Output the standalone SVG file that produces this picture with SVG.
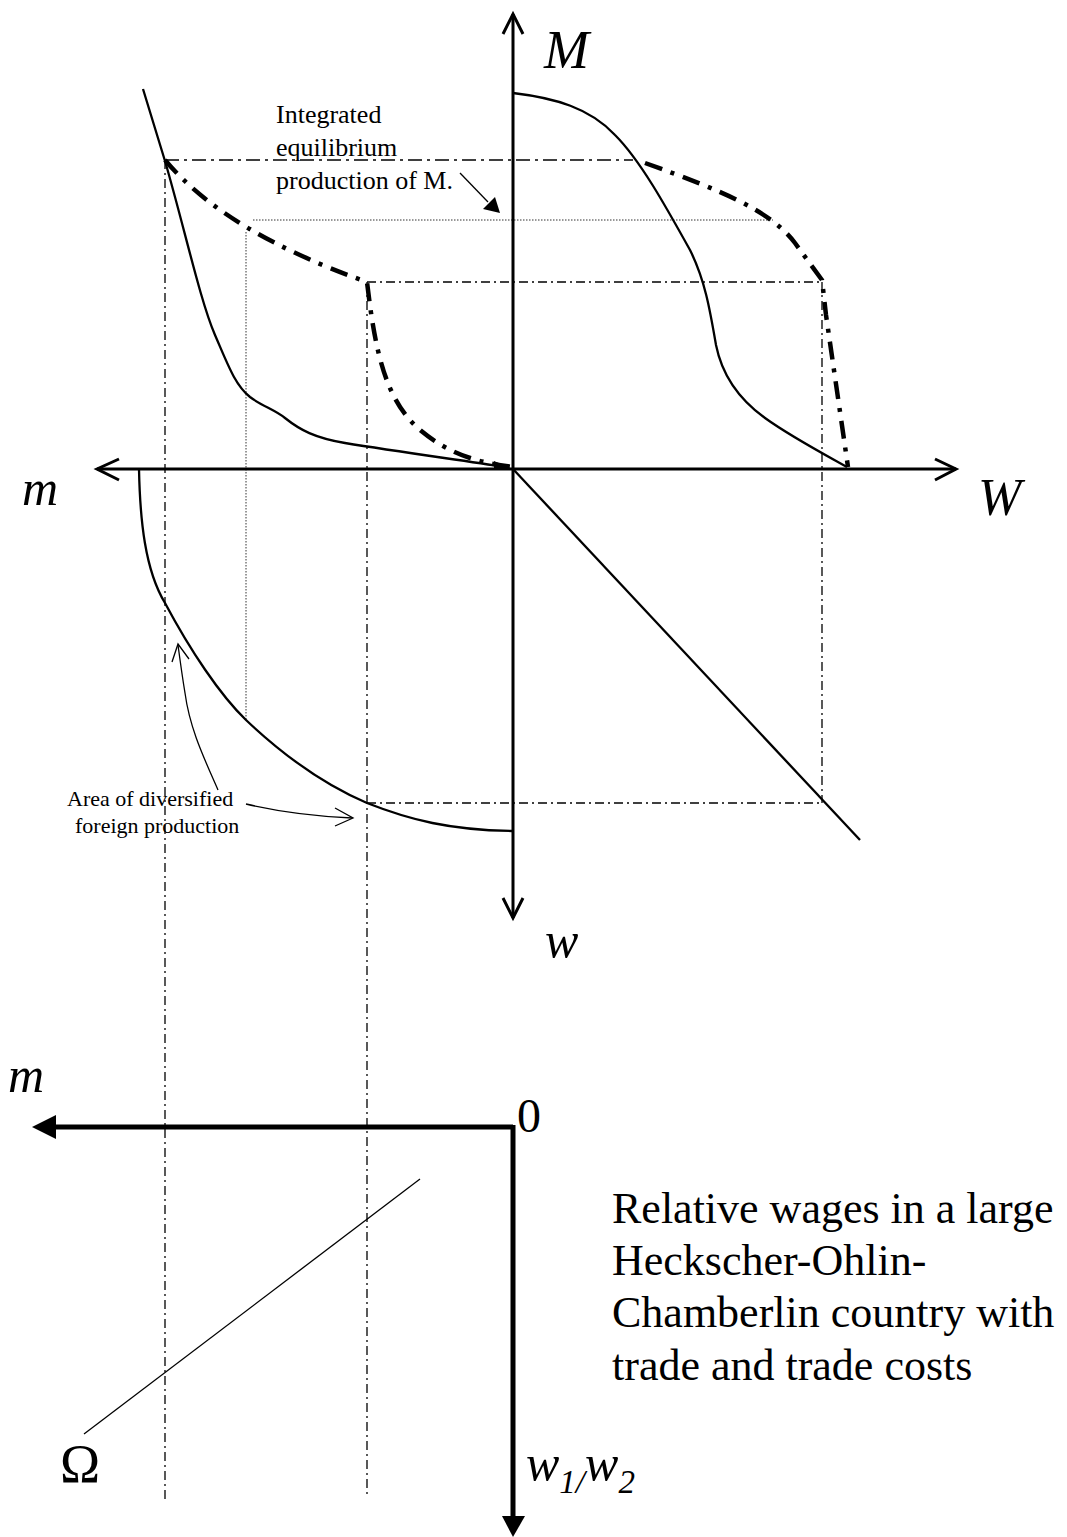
<svg xmlns="http://www.w3.org/2000/svg" width="1067" height="1537" viewBox="0 0 1067 1537">
<style>
.ax{stroke:#000;stroke-width:3;fill:none}
.axb{stroke:#000;stroke-width:5;fill:none}
.cv{stroke:#000;stroke-width:2.3;fill:none}
.dd{stroke:#000;stroke-width:1.3;fill:none;stroke-dasharray:9 4 2 4}
.dd2{stroke:#000;stroke-width:1.3;fill:none;stroke-dasharray:14 5 3 5}
.tk{stroke:#000;stroke-width:4.5;fill:none;stroke-dasharray:18 9 4 9}
.dt{stroke:#333;stroke-width:1;fill:none;stroke-dasharray:1.5 1.5}
.thin{stroke:#000;stroke-width:1.3;fill:none}
.lbl{font-family:"Liberation Serif","Times New Roman",serif;fill:#000}
.it{font-style:italic}
</style>
<rect width="1067" height="1537" fill="#fff"/>
<g id="guides">
<line class="dd2" x1="165" y1="160" x2="633" y2="160"/>
<line class="dd" x1="165" y1="160" x2="165" y2="1502"/>
<line class="dd" x1="367" y1="282" x2="367" y2="1498"/>
<line class="dd" x1="367" y1="282" x2="822" y2="282"/>
<line class="dd" x1="822" y1="282" x2="822" y2="803"/>
<line class="dd" x1="367" y1="803" x2="822" y2="803"/>
<line class="dt" x1="253" y1="220" x2="773" y2="220"/>
<line class="dt" x1="246" y1="232" x2="246" y2="720"/>
</g>
<g id="axes-top">
<line class="ax" x1="513" y1="14" x2="513" y2="918"/>
<line class="ax" x1="97" y1="469" x2="956" y2="469"/>
<polyline class="ax" points="503,34 513,14 523,34"/>
<polyline class="ax" points="503,898 513,918 523,898"/>
<polyline class="ax" points="119,459 97,469 119,480"/>
<polyline class="ax" points="935,459 956,469 935,480"/>
</g>
<g id="curves">
<path class="cv" d="M143,89 L165,161 C185,230 200,300 215,335 C228,365 235,385 250,397 C262,406 275,410 285,418 C300,430 315,438 345,443 C400,452 460,460 505,467"/>
<polygon points="494,461 513,469 494,469" fill="#000"/>
<path class="cv" d="M513,93 C555,98 590,108 615,135 C640,160 665,205 690,250 C705,280 710,310 716,345 C722,375 740,400 765,418 C790,436 820,452 847,467"/>
<path class="cv" d="M139,469 C140,520 145,570 165,603 C190,650 220,695 246,720 C285,757 325,785 367,803 C410,820 450,830 512,831"/>
<line class="cv" x1="513" y1="469" x2="860" y2="840"/>
<path class="tk" d="M165,160 Q225,232 367,282 C375,350 385,400 420,430 C450,455 480,463 513,467"/>
<path class="tk" d="M645,163 C720,190 770,210 795,243 L822,280 L826,315 L848,467"/>
</g>
<g id="axes-bottom">
<line class="axb" x1="513" y1="1127" x2="54" y2="1127"/>
<polygon points="32,1127 56,1115 56,1139" fill="#000"/>
<line class="axb" x1="513" y1="1125" x2="513" y2="1518"/>
<polygon points="513,1537 502,1516 525,1516" fill="#000"/>
<line class="thin" x1="84" y1="1434" x2="420" y2="1179"/>
</g>
<g id="connectors">
<line x1="460" y1="173" x2="488" y2="202" stroke="#000" stroke-width="1.3"/>
<polygon points="500,213 483,209 495,197" fill="#000"/>
<path class="thin" d="M218,790 C205,760 190,730 185,693 C182,675 180,660 178,645"/>
<polyline class="thin" points="172,662 178,644 189,659"/>
<path class="thin" d="M246,804 C280,812 310,816 352,818"/>
<polyline class="thin" points="335,808 353,818 335,826"/>
</g>
<g id="labels">
<text class="lbl it" x="544" y="68" font-size="54">M</text>
<text class="lbl it" x="978" y="515" font-size="52">W</text>
<text class="lbl it" x="22" y="505" font-size="50">m</text>
<text class="lbl it" x="545" y="957" font-size="50">w</text>
<text class="lbl" font-size="26" x="276"><tspan x="276" y="123">Integrated</tspan><tspan x="276" y="156">equilibrium</tspan><tspan x="276" y="189">production of M.</tspan></text>
<text class="lbl" font-size="22"><tspan x="67" y="806">Area of diversified</tspan><tspan x="75" y="833">foreign production</tspan></text>
<text class="lbl it" x="8" y="1092" font-size="50">m</text>
<text class="lbl" x="517" y="1132" font-size="48">0</text>
<text class="lbl" x="60" y="1482" font-size="54">Ω</text>
<text class="lbl it" x="526" y="1480" font-size="50">w<tspan font-size="33" dy="13">1/</tspan><tspan font-size="50" dy="-13">w</tspan><tspan font-size="33" dy="13">2</tspan></text>
<text class="lbl" font-size="44"><tspan x="612" y="1223">Relative wages in a large</tspan><tspan x="612" y="1275">Heckscher-Ohlin-</tspan><tspan x="612" y="1327">Chamberlin country with</tspan><tspan x="612" y="1380">trade and trade costs</tspan></text>
</g>
</svg>
